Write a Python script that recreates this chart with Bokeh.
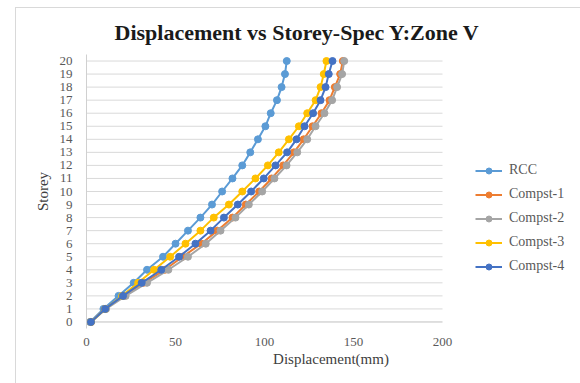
from bokeh.plotting import figure
from bokeh.models import Range1d, FixedTicker, Legend, LegendItem, Title, InlineStyleSheet
from bokeh.embed import file_html
from bokeh.resources import INLINE

# Storey levels and lateral displacement (mm) per model
storeys = list(range(0, 21))
rcc = [2, 9.5, 18, 26.5, 34, 43, 50, 57, 64, 70.5, 76.2, 82, 87.5, 92, 96.3, 100.5, 103.5, 107, 109.6, 111.5, 112.5]
compst_1 = [2.5, 10.5, 21, 32, 44, 54, 64.5, 73.5, 82, 89.5, 97, 104, 110.5, 116.5, 122, 127, 132, 136.5, 139.5, 142.5, 144]
compst_2 = [2.5, 11, 22, 34, 46, 57, 67, 75.3, 83.7, 91.2, 98.7, 105.6, 112.4, 118.4, 124, 128.7, 133.7, 138, 140.8, 143.6, 144.8]
compst_3 = [2.5, 10.5, 20, 29, 38, 47, 55.6, 64, 71.5, 80, 87.5, 94.9, 101.9, 108, 113.7, 119.3, 124, 128.7, 131.5, 133.3, 134.8]
compst_4 = [2.5, 10.5, 20.5, 31, 42, 52, 61.2, 69.7, 77.2, 85, 92.5, 99.6, 106.2, 112.7, 118, 122.5, 127.3, 131.5, 134.3, 136.1, 138.2]

series_names = ["RCC", "Compst-1", "Compst-2", "Compst-3", "Compst-4"]
series_values = [rcc, compst_1, compst_2, compst_3, compst_4]
series_colors = ["#5B9BD5", "#ED7D31", "#A5A5A5", "#FFC000", "#4472C4"]

x_ticks = [0, 50, 100, 150, 200]
y_ticks = list(range(0, 21))
X_MAX = 200

SERIF = "Liberation Serif"
GREY_TEXT = "#595959"

# The frame runs on to the right edge so the legend can sit beside the
# plotted area; gridlines stop at the last x tick.
FRAME_LEFT, FRAME_RIGHT, AXIS_END = 86, 575, 442
x_hi = X_MAX * (FRAME_RIGHT - FRAME_LEFT) / (AXIS_END - FRAME_LEFT)

# thin border round the chart area
chart_border = InlineStyleSheet(css="""
:host::after {
  content: "";
  position: absolute;
  left: 15px; top: 7px; width: 600px; height: 400px;
  border: 1px solid #d9d9d9;
  pointer-events: none;
}
""")

p = figure(
    width=580, height=383,
    output_backend="svg", toolbar_location=None,
    x_range=Range1d(0, x_hi), y_range=Range1d(-0.5, 20.5),
    min_border_left=FRAME_LEFT, min_border_right=580 - FRAME_RIGHT,
    min_border_top=54, min_border_bottom=55,
    stylesheets=[chart_border],
)
p.title = Title(text="Displacement vs Storey-Spec Y:Zone V", align="left",
                text_font=SERIF, text_font_size="22px", text_font_style="bold",
                text_color="#1a1a1a", standoff=20, offset=28)
p.outline_line_color = None
p.background_fill_color = "white"
p.border_fill_color = "white"

# axes
p.xaxis.ticker = FixedTicker(ticks=x_ticks)
p.yaxis.ticker = FixedTicker(ticks=y_ticks)
for ax in (p.xaxis[0], p.yaxis[0]):
    ax.major_tick_line_color = None
    ax.minor_tick_line_color = None
    ax.major_label_text_font = SERIF
    ax.major_label_text_font_size = "13px"
    ax.major_label_text_color = GREY_TEXT
    ax.axis_label_text_font = SERIF
    ax.axis_label_text_font_size = "15px"
    ax.axis_label_text_font_style = "normal"
    ax.axis_label_text_color = "#404040"
p.xaxis.axis_line_color = None
p.yaxis.axis_line_color = "#d0d0d0"
p.xaxis.axis_label = "Displacement(mm)"
p.yaxis.axis_label = "Storey"
p.xaxis.major_label_standoff = 3
p.yaxis.major_label_standoff = 8
p.xaxis.axis_label_standoff = 2
p.yaxis.axis_label_standoff = 6

p.xgrid.grid_line_color = None
p.ygrid.grid_line_color = None

# horizontal gridlines from 0 to the axis end, axis line at storey 0
grid_y = y_ticks[1:]
p.segment(x0=[0] * len(grid_y), x1=[X_MAX] * len(grid_y), y0=grid_y, y1=grid_y,
          line_color="#d9d9d9", line_width=1, level="underlay")
p.segment(x0=[0], x1=[X_MAX], y0=[0], y1=[0], line_color="#bfbfbf", line_width=1,
          level="underlay")

items = []
for name, vals, col in zip(series_names, series_values, series_colors):
    ln = p.line(vals, storeys, line_color=col, line_width=2)
    sc = p.scatter(vals, storeys, marker="circle", size=7, fill_color=col, line_color=col)
    items.append(LegendItem(label=name, renderers=[ln, sc]))

legend = Legend(items=items, location=(AXIS_END + 33 - FRAME_LEFT, 54),
                label_text_font=SERIF, label_text_font_size="14px",
                label_text_color=GREY_TEXT, glyph_width=27, glyph_height=15,
                label_height=15, spacing=8, padding=0, margin=0,
                label_standoff=7, border_line_color=None,
                background_fill_alpha=0)
p.add_layout(legend, "center")

open("out.html", "w").write(file_html(p, INLINE))
